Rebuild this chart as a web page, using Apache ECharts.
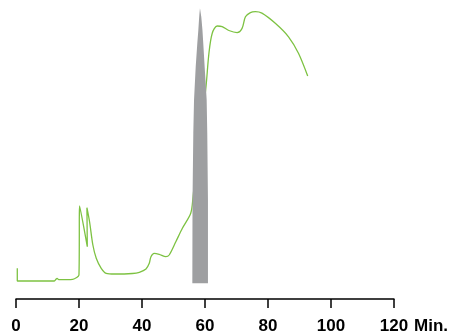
<!DOCTYPE html>
<html><head><meta charset="utf-8">
<script src="https://cdn.jsdelivr.net/npm/echarts@6/dist/echarts.min.js"></script>
<style>html,body{margin:0;padding:0;background:#fff}#c{width:451px;height:335px}</style>
</head><body><div id="c"></div>
<script>
// X axis ticks (minutes)
var xTicks = [0, 20, 40, 60, 80, 100, 120];
// Green trace: time (min) and signal (relative units)
var traceTime = [0.41,0.41,12.09,12.63,13.04,13.58,18.0,19.26,19.99,20.21,22.64,22.52,23.37,24.41,25.48,27.06,28.64,31.26,36.95,39.16,41.27,42.32,42.85,43.89,45.47,47.59,48.63,50.75,52.83,55.48,56.21,58.1,60.22,61.26,62.31,63.88,65.46,67.58,70.2,71.78,72.85,74.43,76.01,78.09,82.33,86.53,89.69,92.62];
var traceSignal = [10.27,6.02,6.02,6.52,6.92,6.45,6.59,7.19,8.03,31.1,17.49,30.54,25.75,18.06,13.61,10.27,8.6,8.36,8.53,8.93,10.03,11.94,14.15,15.28,14.95,14.15,14.72,19.16,23.65,28.66,34.1,53.2,69.9,82.2,88.9,91.3,91.1,89.8,89.1,90.5,94.4,95.8,96.1,95.6,92.2,87.7,82.2,74.6];
// Gray peak outline (polygon)
var peakTime = [58.42,58.62,58.83,59.2,59.46,59.9,60.54,60.73,60.95,60.95,55.99,56.05,56.3,56.53,57.06,57.57,57.9,58.1,58.25];
var peakSignal = [97.2,95.8,94.4,90.0,85.5,77.7,66.6,55.5,33.1,5.25,5.25,33.1,55.5,66.6,77.7,85.5,90.0,93.3,95.5];

var traceData = traceTime.map(function(t,i){return [t, traceSignal[i]];});
var peakData = peakTime.map(function(t,i){return [t, peakSignal[i]];});

var chart = echarts.init(document.getElementById('c'));
chart.setOption({
  animation: false,
  grid: {left: 16, right: 55, top: 0, bottom: 36},
  xAxis: {
    type: 'value', min: 0, max: 120, interval: 20,
    name: 'Min.', nameLocation: 'end', nameGap: 16,
    nameTextStyle: {color: '#000', fontFamily: 'Liberation Sans, Arial', fontWeight: 'bold', fontSize: 17, verticalAlign: 'top', padding: [19,0,0,0]},
    axisLine: {show: true, lineStyle: {color: '#000', width: 1.5}},
    axisTick: {show: true, inside: false, length: 9, lineStyle: {color: '#000', width: 1.5}},
    axisLabel: {margin: 19, color: '#000', fontFamily: 'Liberation Sans, Arial', fontWeight: 'bold', fontSize: 17,
      formatter: function(v){ return xTicks.indexOf(v) >= 0 ? String(v) : ''; }},
    splitLine: {show: false}
  },
  yAxis: {type: 'value', min: 0, max: 100, show: false},
  series: [
    {
      type: 'line', data: traceData, showSymbol: false, smooth: 0.3,
      lineStyle: {color: '#7dc242', width: 1.3}, z: 2
    },
    {
      type: 'custom', data: peakData, z: 3,
      renderItem: function(params, api){
        if (params.dataIndexInside !== 0) return null;
        var pts = peakData.map(function(p){ return api.coord(p); });
        return {type: 'polygon', shape: {points: pts}, style: {fill: '#9e9fa1', stroke: null}};
      }
    }
  ]
});
</script></body></html>
